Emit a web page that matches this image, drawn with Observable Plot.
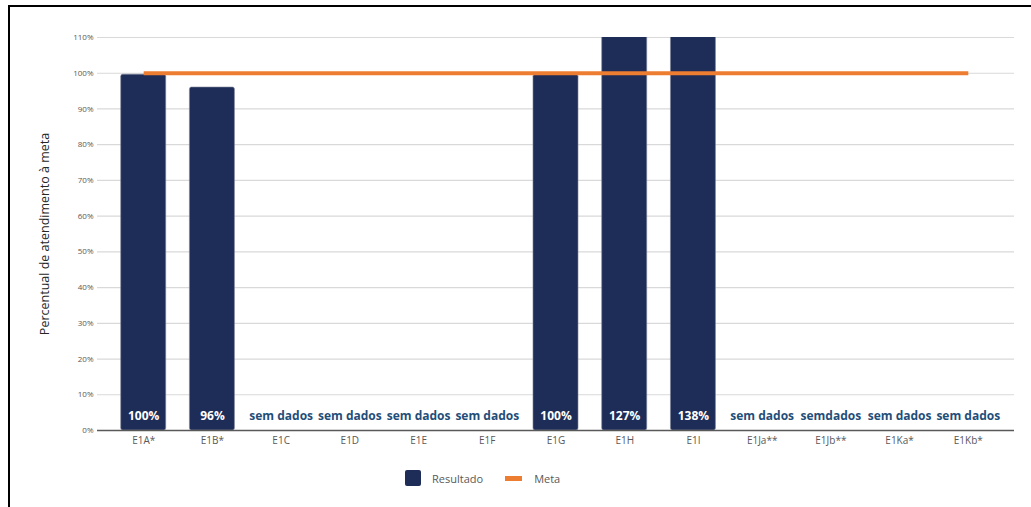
<!DOCTYPE html>
<html>
<head>
<meta charset="utf-8">
<script src="https://cdn.jsdelivr.net/npm/d3@7"></script>
<script src="https://cdn.jsdelivr.net/npm/@observablehq/plot@0.6"></script>
<style>
  html, body { margin: 0; padding: 0; background: #fff; width: 1031px; height: 507px; overflow: hidden; }
  #wrap { position: relative; width: 1031px; height: 507px; font-family: "Open Sans", sans-serif; }
  #frame { position: absolute; left: 8px; top: 5px; width: 1030px; height: 510px; border-top: 2px solid #000; border-left: 2px solid #000; box-sizing: border-box; pointer-events: none; }
  #legend { position: absolute; top: 470px; left: 405px; display: flex; align-items: center; font-size: 11px; color: #595959; }
  .sw { width: 16px; height: 16px; background: #1e2d58; border-radius: 2px; margin-right: 11px; }
  .ln { width: 17px; height: 5px; background: #ed7d31; margin-left: 22px; margin-right: 12px; }
</style>
</head>
<body>
<div id="wrap">
  <div id="chart"></div>
  <div id="frame"></div>
  <div id="legend"><div class="sw"></div><span>Resultado</span><div class="ln"></div><span>Meta</span></div>
</div>
<script>
const categories = ["E1A*", "E1B*", "E1C", "E1D", "E1E", "E1F", "E1G", "E1H", "E1I", "E1Ja**", "E1Jb**", "E1Ka*", "E1Kb*"];
const resultado = [99.6, 96, null, null, null, null, 99.6, 127, 138, null, null, null, null];
const rotulos = ["100%", "96%", "sem dados", "sem dados", "sem dados", "sem dados", "100%", "127%", "138%", "sem dados", "semdados", "sem dados", "sem dados"];
const meta = [100, 100, 100, 100, 100, 100, 100, 100, 100, 100, 100, 100, 100];
const yTicks = [0, 10, 20, 30, 40, 50, 60, 70, 80, 90, 100, 110];
const yTitle = "Percentual de atendimento à meta";

const data = categories.map((c, i) => ({cat: c, valor: resultado[i], rotulo: rotulos[i], meta: meta[i], temDado: resultado[i] != null}));

const chart = Plot.plot({
  width: 1031,
  height: 455,
  marginTop: 37,
  marginBottom: 25,
  marginLeft: 97,
  marginRight: 17,
  style: {fontFamily: "'Open Sans', sans-serif", background: "transparent", overflow: "visible"},
  x: {domain: categories, padding: 0.345, round: false, label: null},
  y: {domain: [0, 110], label: null},
  marks: [
    Plot.gridY(yTicks, {stroke: "#d9d9d9", strokeOpacity: 1, strokeWidth: 1.2}),
    Plot.axisY(yTicks, {tickSize: 0, tickPadding: 4, tickFormat: d => d + "%", fontSize: 8, color: "#595959", label: null}),
    Plot.axisX({tickSize: 0, tickPadding: 6, fontSize: 10, color: "#595959", label: null}),
    Plot.barY(data.filter(d => d.temDado), {x: "cat", y: "valor", fill: "#1e2d58", stroke: "#7d8598", strokeWidth: 0.6, rx: 2, clip: true}),
    Plot.ruleY([0], {stroke: "#595959", strokeWidth: 1.6}),
    Plot.line(data, {x: "cat", y: "meta", stroke: "#ed7d31", strokeWidth: 4, strokeLinecap: "butt"}),
    Plot.text(data, {x: "cat", y: 0, text: "rotulo", dy: -14, fontSize: 12, fontWeight: "bold",
      fill: d => d.temDado ? "#ffffff" : "#1f4e79"}),
    Plot.text([yTitle], {frameAnchor: "left", textAnchor: "middle", text: d => d, rotate: -90, dx: -53, fontSize: 12.5, fill: "#262626"})
  ]
});
document.getElementById("chart").appendChild(chart);
</script>
</body>
</html>
